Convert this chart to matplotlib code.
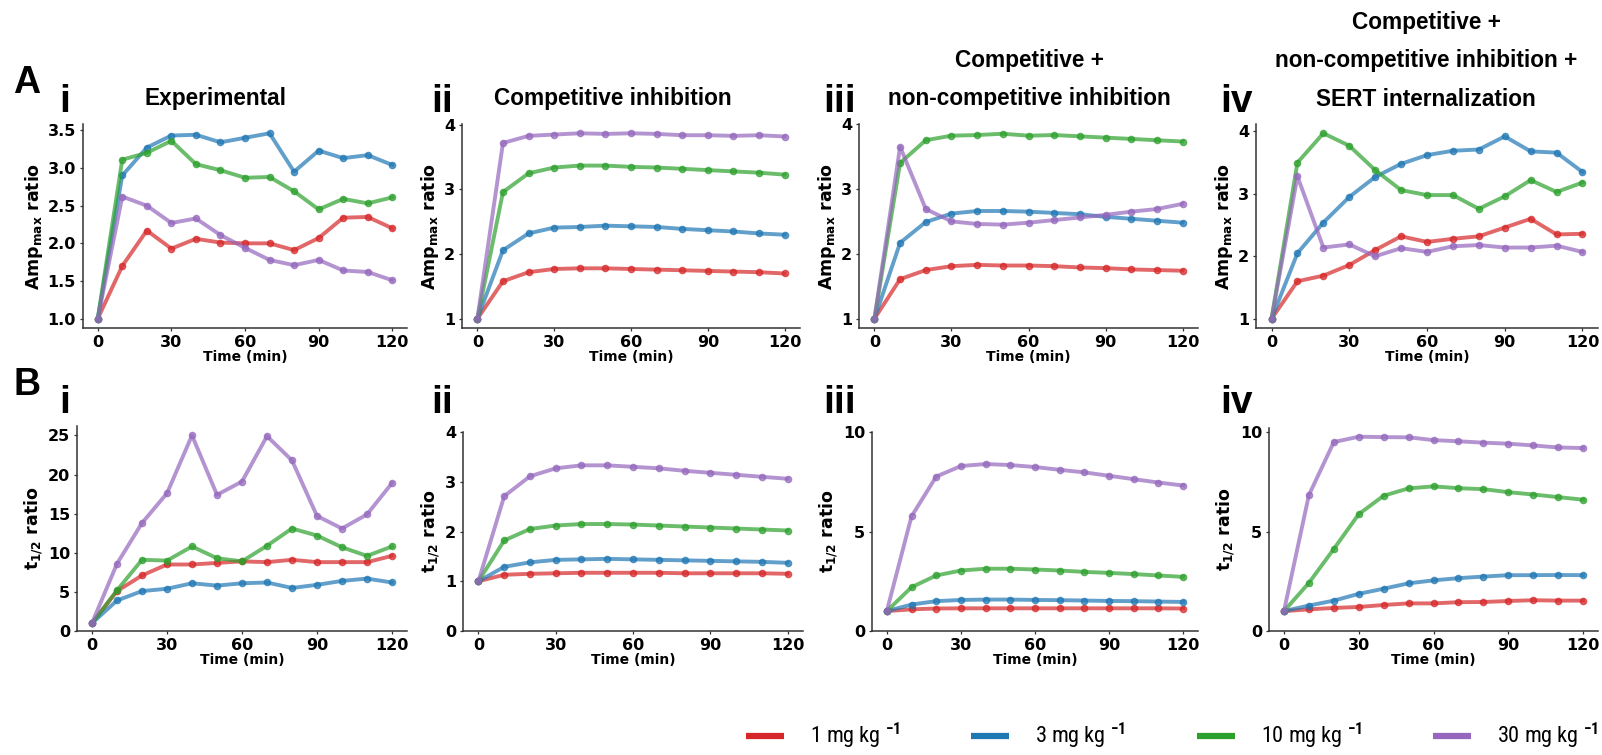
import matplotlib
matplotlib.use('Agg')
import matplotlib.pyplot as plt
from matplotlib import font_manager
from matplotlib.lines import Line2D

# time points (min)
time_min = [0, 10, 20, 30, 40, 50, 60, 70, 80, 90, 100, 110, 120]

dose_labels = ['1 mg kg $^{-1}$', '3 mg kg $^{-1}$', '10 mg kg $^{-1}$', '30 mg kg $^{-1}$']
dose_colors = ['#d62728', '#1f77b4', '#2ca02c', '#9467bd']

# Amp_max ratio, order of doses: 1, 3, 10, 30 mg/kg
amp_experimental = [
    [1.0, 1.70, 2.17, 1.93, 2.06, 2.01, 2.00, 2.00, 1.91, 2.07, 2.34, 2.35, 2.20],
    [1.0, 2.90, 3.27, 3.43, 3.44, 3.34, 3.40, 3.46, 2.95, 3.23, 3.13, 3.17, 3.04],
    [1.0, 3.11, 3.20, 3.36, 3.05, 2.97, 2.87, 2.88, 2.69, 2.45, 2.59, 2.53, 2.61],
    [1.0, 2.62, 2.50, 2.27, 2.33, 2.11, 1.94, 1.78, 1.71, 1.78, 1.64, 1.62, 1.51],
]
amp_competitive = [
    [1.0, 1.58, 1.72, 1.77, 1.78, 1.78, 1.77, 1.76, 1.75, 1.74, 1.73, 1.72, 1.70],
    [1.0, 2.06, 2.32, 2.41, 2.42, 2.44, 2.43, 2.42, 2.39, 2.37, 2.35, 2.32, 2.30],
    [1.0, 2.96, 3.25, 3.34, 3.37, 3.37, 3.35, 3.34, 3.32, 3.30, 3.28, 3.26, 3.23],
    [1.0, 3.72, 3.83, 3.85, 3.87, 3.86, 3.87, 3.86, 3.84, 3.84, 3.83, 3.84, 3.82],
]
amp_noncomp = [
    [1.0, 1.61, 1.75, 1.81, 1.83, 1.82, 1.82, 1.81, 1.79, 1.78, 1.76, 1.75, 1.74],
    [1.0, 2.17, 2.49, 2.62, 2.66, 2.66, 2.65, 2.63, 2.61, 2.57, 2.54, 2.51, 2.48],
    [1.0, 3.40, 3.75, 3.82, 3.83, 3.85, 3.82, 3.83, 3.81, 3.79, 3.77, 3.75, 3.73],
    [1.0, 3.65, 2.69, 2.50, 2.46, 2.45, 2.48, 2.52, 2.56, 2.60, 2.65, 2.69, 2.77],
]
amp_sert = [
    [1.0, 1.60, 1.69, 1.86, 2.10, 2.32, 2.23, 2.28, 2.32, 2.46, 2.60, 2.35, 2.36],
    [1.0, 2.05, 2.54, 2.95, 3.27, 3.48, 3.62, 3.69, 3.71, 3.92, 3.68, 3.66, 3.35],
    [1.0, 3.50, 3.97, 3.77, 3.38, 3.06, 2.98, 2.98, 2.76, 2.96, 3.22, 3.03, 3.18],
    [1.0, 3.28, 2.14, 2.19, 2.00, 2.13, 2.07, 2.16, 2.18, 2.14, 2.14, 2.17, 2.07],
]

# t1/2 ratio
t12_experimental = [
    [1.0, 5.1, 7.1, 8.5, 8.5, 8.7, 8.9, 8.8, 9.1, 8.8, 8.8, 8.8, 9.6],
    [1.0, 3.9, 5.1, 5.4, 6.1, 5.8, 6.1, 6.2, 5.5, 5.9, 6.4, 6.7, 6.2],
    [1.0, 5.2, 9.1, 9.0, 10.8, 9.3, 8.9, 10.9, 13.1, 12.2, 10.7, 9.6, 10.8],
    [1.0, 8.6, 13.8, 17.6, 25.0, 17.4, 19.1, 24.9, 21.8, 14.7, 13.1, 14.9, 18.9],
]
t12_competitive = [
    [1.0, 1.13, 1.15, 1.16, 1.17, 1.17, 1.17, 1.17, 1.16, 1.16, 1.16, 1.16, 1.15],
    [1.0, 1.29, 1.38, 1.43, 1.44, 1.45, 1.44, 1.43, 1.42, 1.41, 1.40, 1.39, 1.37],
    [1.0, 1.82, 2.05, 2.12, 2.15, 2.15, 2.14, 2.12, 2.10, 2.08, 2.06, 2.04, 2.02],
    [1.0, 2.71, 3.11, 3.27, 3.33, 3.33, 3.30, 3.27, 3.22, 3.18, 3.14, 3.10, 3.06],
]
t12_noncomp = [
    [1.0, 1.09, 1.13, 1.14, 1.14, 1.14, 1.14, 1.14, 1.14, 1.14, 1.14, 1.14, 1.13],
    [1.0, 1.33, 1.50, 1.56, 1.58, 1.58, 1.56, 1.55, 1.53, 1.51, 1.50, 1.48, 1.46],
    [1.0, 2.20, 2.79, 3.04, 3.13, 3.13, 3.09, 3.04, 2.97, 2.92, 2.86, 2.79, 2.72],
    [1.0, 5.76, 7.76, 8.29, 8.39, 8.34, 8.24, 8.10, 7.97, 7.80, 7.63, 7.46, 7.31],
]
t12_sert = [
    [1.0, 1.09, 1.16, 1.21, 1.31, 1.39, 1.39, 1.45, 1.46, 1.51, 1.55, 1.53, 1.53],
    [1.0, 1.28, 1.53, 1.87, 2.13, 2.40, 2.55, 2.66, 2.74, 2.81, 2.81, 2.82, 2.81],
    [1.0, 2.42, 4.13, 5.88, 6.81, 7.18, 7.28, 7.19, 7.14, 6.99, 6.87, 6.74, 6.61],
    [1.0, 6.84, 9.51, 9.78, 9.76, 9.75, 9.61, 9.55, 9.48, 9.43, 9.34, 9.24, 9.21],
]

W, H = 1602, 755

# pick a narrow font for the legend if one is installed
installed = {f.name for f in font_manager.fontManager.ttflist}
legend_font, legend_size = 'Liberation Sans', 15
for name in ['Liberation Sans Narrow', 'Roboto Condensed', 'Open Sans Condensed',
             'DejaVu Sans Condensed', 'Noto Sans Condensed']:
    if name in installed:
        legend_font, legend_size = name, 16
        break

plt.rcParams['font.family'] = 'DejaVu Sans'
plt.rcParams['font.weight'] = 'bold'
plt.rcParams['axes.labelweight'] = 'bold'
plt.rcParams['mathtext.fontset'] = 'dejavusans'
plt.rcParams['mathtext.rm'] = legend_font


def rect(l, t, r, b):
    return [l / W, 1 - b / H, (r - l) / W, (b - t) / H]


def fx(x):
    return x / W


def fy(y):
    return 1 - y / H


fig = plt.figure(figsize=(W / 100, H / 100), dpi=100)

panels = [
    (amp_experimental, rect(83, 124, 407, 328), 'Amp$_{\\rm max}$ ratio', None, None),
    (amp_competitive, rect(462, 124, 800, 328), 'Amp$_{\\rm max}$ ratio', None, [1, 2, 3, 4]),
    (amp_noncomp, rect(859, 124, 1198, 328), 'Amp$_{\\rm max}$ ratio', None, [1, 2, 3, 4]),
    (amp_sert, rect(1256, 124, 1598, 328), 'Amp$_{\\rm max}$ ratio', None, [1, 2, 3, 4]),
    (t12_experimental, rect(77, 426, 407, 631), 't$_{1/2}$ ratio', (0, None), None),
    (t12_competitive, rect(463, 432, 803, 631), 't$_{1/2}$ ratio', (0, 4), [0, 1, 2, 3, 4]),
    (t12_noncomp, rect(872, 432, 1198, 631), 't$_{1/2}$ ratio', (0, 10), [0, 5, 10]),
    (t12_sert, rect(1269, 428, 1598, 631), 't$_{1/2}$ ratio', (0, None), [0, 5, 10]),
]

for data, pos, ylab, ylim, yticks in panels:
    ax = fig.add_axes(pos)
    for series, c in zip(data, dose_colors):
        ax.plot(time_min, series, color=c, lw=2.8, alpha=0.7, marker='o', ms=4.5)
    if ylim is not None:
        ax.set_ylim(*ylim)
    if yticks is not None:
        ax.set_yticks(yticks)
    ax.set_xticks([0, 30, 60, 90, 120])
    ax.spines['top'].set_visible(False)
    ax.spines['right'].set_visible(False)
    for s in ['left', 'bottom']:
        ax.spines[s].set_color('#333333')
        ax.spines[s].set_linewidth(1.1)
    ax.tick_params(labelsize=11.5, length=2.5, width=0.9, color='#333333', pad=2.5)
    ax.set_xlabel('Time (min)', fontsize=10, labelpad=0)
    ax.set_ylabel(ylab, fontsize=12.5, labelpad=2)

# column titles
title_font = dict(family='Liberation Sans', fontweight='bold', fontsize=16.3, ha='center', va='center')
titles = [
    (215, ['Experimental'], [99]),
    (613, ['Competitive inhibition'], [99]),
    (1029, ['Competitive +', 'non-competitive inhibition'], [60, 99]),
    (1426, ['Competitive +', 'non-competitive inhibition +', 'SERT internalization'], [22, 60, 99]),
]
for x, lines, ys in titles:
    for line, y in zip(lines, ys):
        fig.text(fx(x), fy(y), line, **title_font)

# panel letters and numerals
big = dict(family='Liberation Sans', fontweight='bold', ha='left', va='baseline')
fig.text(fx(13), fy(93), 'A', fontsize=27, **big)
fig.text(fx(13), fy(395), 'B', fontsize=27, **big)
for x, lab in zip([59, 431, 823, 1220], ['i', 'ii', 'iii', 'iv']):
    fig.text(fx(x), fy(112), lab, fontsize=28, **big)
    fig.text(fx(x), fy(413), lab, fontsize=28, **big)

handles = [Line2D([0], [0], color=c, lw=4.5, solid_capstyle='butt') for c in dose_colors]
leg = fig.legend(handles, dose_labels, loc='center left', bbox_to_anchor=(fx(746), fy(736)),
                 ncol=4, frameon=False, borderpad=0, borderaxespad=0,
                 handlelength=1.71, handletextpad=1.17, columnspacing=3.2,
                 prop={'family': legend_font, 'size': legend_size, 'weight': 'normal'})
for t in leg.get_texts():
    t.set_math_fontfamily('custom')

fig.savefig('out.png', dpi=100)
